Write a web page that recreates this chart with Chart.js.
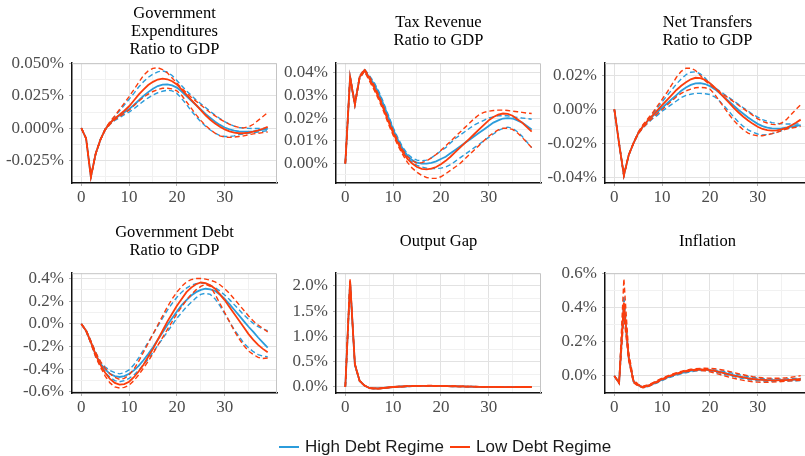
<!DOCTYPE html>
<html><head><meta charset="utf-8">
<script src="https://cdn.jsdelivr.net/npm/chart.js@4.4.1/dist/chart.umd.min.js"></script>
<style>
html,body{margin:0;padding:0;background:#fff;width:805px;height:456px;overflow:hidden;position:relative}
canvas{position:absolute}
.title{position:absolute;display:flex;align-items:center;justify-content:center;text-align:center;font-family:"Liberation Serif",serif;font-size:16.5px;line-height:18.3px;color:#000;white-space:pre-line}
.leg{position:absolute;top:437px;height:20px;display:flex;align-items:center;font-family:"Liberation Sans",Arial,sans-serif;font-size:17px;color:#1a1a1a;white-space:nowrap}
.leg i{display:inline-block;width:20px;height:2px;margin-right:6px}
</style></head><body>
<script>
const periods = [0,1,2,3,4,5,6,7,8,9,10,11,12,13,14,15,16,17,18,19,20,21,22,23,24,25,26,27,28,29,30,31,32,33,34,35,36,37,38,39];
const xTickLabels = [0,10,20,30];
const seriesNames = ['High Debt Regime','Low Debt Regime'];

// Government expenditures (% of GDP)
const govExpLow   = [0,-0.008,-0.038,-0.020,-0.009,-0.001,0.004,0.0075,0.0105,0.0135,0.017,0.0215,0.026,0.030,0.0335,0.036,0.0378,0.0385,0.038,0.0365,0.034,0.030,0.026,0.022,0.018,0.014,0.010,0.0065,0.0035,0.001,-0.001,-0.0025,-0.0035,-0.004,-0.004,-0.0035,-0.0028,-0.0018,-0.0005,0.001];
const govExpLowUp = [0,-0.008,-0.038,-0.020,-0.009,-0.0005,0.005,0.0095,0.0145,0.0195,0.0245,0.030,0.0355,0.041,0.0445,0.0465,0.047,0.0455,0.043,0.039,0.035,0.031,0.0275,0.024,0.021,0.018,0.015,0.012,0.0095,0.007,0.005,0.003,0.0015,0.0005,0.0002,0.001,0.003,0.006,0.009,0.012];
const govExpLowLo = [0,-0.008,-0.038,-0.020,-0.009,-0.0015,0.003,0.0065,0.009,0.0115,0.014,0.0175,0.021,0.024,0.0265,0.0285,0.030,0.031,0.031,0.0305,0.029,0.0255,0.0205,0.0155,0.0105,0.006,0.002,-0.0012,-0.004,-0.006,-0.007,-0.0072,-0.007,-0.0065,-0.006,-0.0052,-0.0045,-0.004,-0.0035,-0.003];
const govExpHigh   = [0,-0.008,-0.038,-0.020,-0.009,-0.001,0.004,0.0072,0.0098,0.0123,0.0148,0.018,0.0215,0.025,0.028,0.0307,0.0327,0.0338,0.034,0.0332,0.0315,0.0285,0.025,0.0215,0.018,0.0145,0.011,0.008,0.005,0.0025,0.0005,-0.001,-0.002,-0.0025,-0.0028,-0.0028,-0.0025,-0.002,-0.0012,-0.0005];
const govExpHighUp = [0,-0.008,-0.038,-0.020,-0.009,-0.0005,0.0045,0.009,0.0135,0.018,0.0225,0.027,0.032,0.036,0.0395,0.042,0.0438,0.0445,0.0435,0.041,0.037,0.033,0.029,0.0255,0.022,0.019,0.016,0.013,0.010,0.0075,0.005,0.003,0.0015,0.0005,0,-0.0002,-0.0003,-0.0003,-0.0002,0];
const govExpHighLo = [0,-0.008,-0.038,-0.020,-0.009,-0.0015,0.003,0.006,0.008,0.0105,0.0125,0.015,0.018,0.021,0.0235,0.0258,0.0275,0.0287,0.0295,0.029,0.027,0.023,0.0185,0.0135,0.009,0.005,0.0015,-0.0015,-0.004,-0.0058,-0.0065,-0.0065,-0.006,-0.005,-0.0045,-0.004,-0.0035,-0.003,-0.0025,-0.002];
const govExpTicks = [-0.025,0,0.025,0.05];

// Tax revenue
const taxLow   = [0,0.038,0.026,0.038,0.041,0.0375,0.0335,0.029,0.024,0.0185,0.0135,0.009,0.005,0.002,0,-0.0015,-0.0023,-0.0025,-0.0022,-0.0015,-0.0003,0.0012,0.003,0.005,0.007,0.009,0.011,0.013,0.015,0.017,0.019,0.0205,0.0215,0.022,0.0218,0.021,0.0195,0.018,0.016,0.014];
const taxLowUp = [0,0.0385,0.0265,0.0385,0.0415,0.0385,0.0345,0.030,0.025,0.0195,0.0145,0.010,0.006,0.003,0.0012,0.0002,0.0004,0.0012,0.0025,0.004,0.0058,0.0078,0.0098,0.0118,0.0138,0.0158,0.0178,0.0198,0.0215,0.0225,0.023,0.0233,0.0235,0.0235,0.0233,0.023,0.0228,0.0225,0.0222,0.022];
const taxLowLo = [0,0.0375,0.0255,0.0375,0.0405,0.0365,0.0325,0.028,0.023,0.0175,0.0125,0.008,0.004,0.0005,-0.002,-0.0038,-0.0052,-0.0061,-0.0065,-0.0065,-0.0058,-0.0045,-0.003,-0.0015,0,0.002,0.004,0.006,0.008,0.010,0.012,0.0135,0.0148,0.0155,0.0155,0.015,0.0135,0.0115,0.0093,0.007];
const taxHigh   = [0,0.038,0.026,0.038,0.041,0.038,0.035,0.031,0.026,0.0205,0.015,0.0105,0.0065,0.0035,0.0015,0.0004,0,0,0.0003,0.001,0.002,0.003,0.0045,0.006,0.0075,0.009,0.0105,0.012,0.0135,0.015,0.0165,0.018,0.019,0.0198,0.020,0.0198,0.019,0.018,0.0165,0.015];
const taxHighUp = [0,0.0385,0.0265,0.0385,0.0415,0.0388,0.0358,0.0318,0.0268,0.0213,0.0158,0.0113,0.0073,0.0043,0.0025,0.0015,0.0012,0.0015,0.0025,0.004,0.0055,0.007,0.009,0.011,0.0125,0.014,0.0155,0.017,0.018,0.019,0.020,0.0205,0.021,0.021,0.021,0.0205,0.0203,0.020,0.0198,0.0195];
const taxHighLo = [0,0.0375,0.0255,0.0375,0.0405,0.0372,0.0342,0.0302,0.0252,0.0197,0.0142,0.0097,0.0057,0.0027,0.0005,-0.0008,-0.0015,-0.002,-0.0022,-0.0022,-0.002,-0.0015,-0.0005,0.001,0.0025,0.004,0.0055,0.007,0.0085,0.010,0.0115,0.013,0.0145,0.0155,0.016,0.0155,0.014,0.012,0.0095,0.007];
const taxTicks = [0,0.01,0.02,0.03,0.04];

// Net transfers
const ntLow   = [0,-0.020,-0.039,-0.027,-0.020,-0.014,-0.010,-0.0065,-0.0035,-0.0005,0.0025,0.0055,0.0085,0.0115,0.014,0.016,0.0178,0.0187,0.0185,0.0175,0.0155,0.013,0.010,0.007,0.004,0.001,-0.0018,-0.0043,-0.0065,-0.0085,-0.0102,-0.0115,-0.0122,-0.0125,-0.0123,-0.0118,-0.011,-0.0095,-0.0078,-0.006];
const ntLowUp = [0,-0.020,-0.039,-0.027,-0.020,-0.0135,-0.009,-0.0055,-0.002,0.002,0.006,0.010,0.0145,0.019,0.0225,0.0244,0.0243,0.023,0.020,0.017,0.0145,0.0125,0.0105,0.0085,0.0065,0.0045,0.0025,0.0005,-0.0015,-0.0035,-0.0055,-0.007,-0.008,-0.0088,-0.009,-0.008,-0.006,-0.003,0,0.0028];
const ntLowLo = [0,-0.020,-0.039,-0.027,-0.020,-0.0145,-0.0108,-0.0078,-0.005,-0.0025,0,0.0025,0.005,0.0075,0.0095,0.011,0.012,0.0128,0.013,0.0128,0.012,0.009,0.005,0.001,-0.003,-0.0065,-0.0095,-0.012,-0.014,-0.015,-0.0155,-0.0155,-0.015,-0.0143,-0.0135,-0.0125,-0.0115,-0.011,-0.0105,-0.010];
const ntHigh   = [0,-0.020,-0.039,-0.027,-0.020,-0.014,-0.010,-0.0068,-0.004,-0.0015,0.001,0.0035,0.006,0.0085,0.011,0.013,0.0145,0.0154,0.0155,0.015,0.0138,0.012,0.0098,0.0073,0.0048,0.0022,-0.0003,-0.0025,-0.0047,-0.0067,-0.0085,-0.0098,-0.0107,-0.0112,-0.0113,-0.0112,-0.0108,-0.0102,-0.0097,-0.0092];
const ntHighUp = [0,-0.020,-0.039,-0.027,-0.020,-0.0135,-0.0093,-0.006,-0.0025,0.001,0.0045,0.008,0.0115,0.015,0.018,0.0205,0.022,0.0222,0.021,0.0185,0.0155,0.013,0.011,0.009,0.007,0.005,0.003,0.001,-0.001,-0.003,-0.0045,-0.006,-0.007,-0.0078,-0.0082,-0.0085,-0.0086,-0.0086,-0.0086,-0.0085];
const ntHighLo = [0,-0.020,-0.039,-0.027,-0.020,-0.0145,-0.0108,-0.008,-0.0055,-0.0035,-0.001,0.001,0.003,0.005,0.007,0.0083,0.009,0.0095,0.0095,0.0093,0.0088,0.0075,0.005,0.002,-0.0012,-0.0045,-0.0075,-0.010,-0.012,-0.0135,-0.0145,-0.015,-0.0148,-0.0143,-0.0135,-0.0125,-0.0115,-0.0107,-0.010,-0.0097];
const ntTicks = [-0.04,-0.02,0,0.02];

// Government debt
const debtLow   = [0,-0.06,-0.16,-0.27,-0.36,-0.43,-0.485,-0.52,-0.535,-0.53,-0.51,-0.47,-0.42,-0.36,-0.29,-0.22,-0.14,-0.06,0.02,0.09,0.16,0.22,0.28,0.32,0.35,0.365,0.36,0.34,0.31,0.26,0.21,0.15,0.09,0.03,-0.03,-0.09,-0.14,-0.185,-0.22,-0.25];
const debtLowUp = [0,-0.055,-0.15,-0.25,-0.33,-0.39,-0.44,-0.47,-0.49,-0.48,-0.45,-0.40,-0.33,-0.25,-0.17,-0.09,-0.01,0.07,0.15,0.22,0.28,0.33,0.37,0.39,0.40,0.40,0.395,0.385,0.37,0.345,0.31,0.27,0.22,0.17,0.12,0.07,0.025,-0.01,-0.04,-0.07];
const debtLowLo = [0,-0.065,-0.17,-0.29,-0.38,-0.46,-0.52,-0.555,-0.565,-0.56,-0.54,-0.50,-0.45,-0.39,-0.33,-0.26,-0.19,-0.12,-0.05,0.02,0.09,0.15,0.21,0.26,0.30,0.33,0.35,0.33,0.26,0.18,0.10,0.02,-0.06,-0.13,-0.19,-0.24,-0.27,-0.295,-0.305,-0.30];
const debtHigh   = [0,-0.06,-0.16,-0.27,-0.35,-0.40,-0.44,-0.46,-0.468,-0.46,-0.44,-0.41,-0.37,-0.32,-0.265,-0.205,-0.14,-0.075,-0.01,0.05,0.11,0.165,0.21,0.25,0.28,0.30,0.31,0.305,0.29,0.26,0.22,0.175,0.125,0.075,0.025,-0.025,-0.07,-0.12,-0.165,-0.21];
const debtHighUp = [0,-0.055,-0.15,-0.25,-0.34,-0.38,-0.41,-0.43,-0.44,-0.43,-0.405,-0.36,-0.30,-0.23,-0.16,-0.09,-0.02,0.05,0.12,0.18,0.235,0.28,0.315,0.34,0.355,0.36,0.355,0.34,0.32,0.29,0.255,0.215,0.17,0.125,0.08,0.04,0.005,-0.025,-0.045,-0.06];
const debtHighLo = [0,-0.065,-0.17,-0.29,-0.37,-0.43,-0.47,-0.50,-0.51,-0.50,-0.48,-0.45,-0.41,-0.36,-0.31,-0.25,-0.19,-0.13,-0.07,-0.01,0.05,0.10,0.15,0.19,0.23,0.26,0.27,0.26,0.22,0.16,0.09,0.02,-0.05,-0.11,-0.17,-0.21,-0.245,-0.27,-0.285,-0.29];
const debtTicks = [-0.6,-0.4,-0.2,0,0.2,0.4];

// Output gap
const gapLow   = [0,2.10,0.45,0.12,0.03,-0.02,-0.03,-0.03,-0.02,-0.01,0,0.005,0.01,0.015,0.018,0.02,0.022,0.022,0.022,0.021,0.02,0.018,0.016,0.014,0.012,0.01,0.008,0.006,0.004,0.003,0.002,0.001,0,-0.001,-0.001,-0.001,-0.001,0,0,0.001];
const gapLowUp = [0,2.13,0.47,0.13,0.035,-0.015,-0.025,-0.025,-0.015,-0.005,0.005,0.01,0.015,0.02,0.023,0.025,0.027,0.028,0.028,0.027,0.025,0.023,0.021,0.019,0.016,0.014,0.012,0.01,0.008,0.006,0.004,0.003,0.002,0.002,0.002,0.003,0.004,0.005,0.006,0.007];
const gapLowLo = [0,2.07,0.43,0.11,0.025,-0.025,-0.035,-0.035,-0.025,-0.015,-0.005,0,0.005,0.01,0.013,0.015,0.017,0.017,0.016,0.015,0.014,0.012,0.01,0.008,0.006,0.005,0.003,0.002,0,-0.001,-0.002,-0.003,-0.004,-0.004,-0.005,-0.005,-0.005,-0.005,-0.004,-0.004];
const gapHigh   = [0,2.08,0.44,0.12,0.03,-0.02,-0.03,-0.028,-0.02,-0.01,0,0.005,0.01,0.014,0.017,0.019,0.02,0.021,0.021,0.02,0.019,0.017,0.015,0.013,0.011,0.009,0.007,0.005,0.004,0.003,0.002,0.001,0,-0.001,-0.001,-0.001,-0.001,0,0,0];
const gapHighUp = [0,2.10,0.455,0.125,0.032,-0.017,-0.027,-0.026,-0.017,-0.007,0.003,0.008,0.013,0.017,0.02,0.022,0.024,0.025,0.025,0.024,0.022,0.02,0.018,0.016,0.014,0.012,0.01,0.008,0.006,0.005,0.004,0.003,0.002,0.002,0.002,0.002,0.002,0.003,0.003,0.004];
const gapHighLo = [0,2.06,0.425,0.115,0.028,-0.023,-0.033,-0.031,-0.023,-0.013,-0.003,0.002,0.007,0.011,0.014,0.016,0.017,0.017,0.017,0.016,0.015,0.013,0.011,0.009,0.007,0.006,0.004,0.003,0.002,0,-0.001,-0.002,-0.003,-0.003,-0.004,-0.004,-0.004,-0.004,-0.003,-0.003];
const gapTicks = [0,0.5,1,1.5,2];

// Inflation
const infLow   = [0,-0.04,0.43,0.11,-0.03,-0.055,-0.065,-0.058,-0.045,-0.032,-0.018,-0.006,0.005,0.014,0.022,0.029,0.034,0.037,0.038,0.037,0.034,0.029,0.023,0.016,0.009,0.002,-0.004,-0.009,-0.014,-0.018,-0.021,-0.023,-0.025,-0.026,-0.026,-0.025,-0.024,-0.022,-0.02,-0.018];
const infLowUp = [0,-0.035,0.57,0.14,-0.02,-0.05,-0.06,-0.053,-0.04,-0.027,-0.013,-0.001,0.01,0.019,0.027,0.034,0.039,0.042,0.044,0.045,0.044,0.042,0.038,0.033,0.027,0.02,0.013,0.007,0.001,-0.004,-0.008,-0.011,-0.013,-0.014,-0.014,-0.013,-0.011,-0.008,-0.004,0.002];
const infLowLo = [0,-0.045,0.35,0.09,-0.04,-0.06,-0.07,-0.063,-0.05,-0.037,-0.023,-0.011,0,0.009,0.017,0.024,0.029,0.032,0.032,0.03,0.024,0.017,0.009,0.001,-0.007,-0.014,-0.02,-0.026,-0.03,-0.034,-0.036,-0.037,-0.037,-0.036,-0.035,-0.033,-0.031,-0.029,-0.027,-0.025];
const infHigh   = [0,-0.04,0.42,0.11,-0.03,-0.055,-0.065,-0.06,-0.048,-0.035,-0.022,-0.01,0,0.009,0.017,0.024,0.03,0.034,0.036,0.036,0.034,0.03,0.025,0.018,0.011,0.004,-0.002,-0.008,-0.013,-0.017,-0.02,-0.022,-0.024,-0.025,-0.025,-0.025,-0.024,-0.023,-0.022,-0.021];
const infHighUp = [0,-0.037,0.47,0.12,-0.025,-0.052,-0.062,-0.056,-0.044,-0.031,-0.017,-0.005,0.005,0.014,0.022,0.029,0.034,0.038,0.04,0.04,0.038,0.035,0.031,0.026,0.02,0.014,0.008,0.002,-0.003,-0.008,-0.012,-0.015,-0.017,-0.018,-0.018,-0.018,-0.017,-0.016,-0.015,-0.014];
const infHighLo = [0,-0.043,0.38,0.1,-0.035,-0.058,-0.068,-0.063,-0.052,-0.04,-0.027,-0.015,-0.005,0.004,0.012,0.019,0.025,0.029,0.031,0.031,0.029,0.024,0.017,0.01,0.003,-0.004,-0.01,-0.016,-0.021,-0.025,-0.028,-0.03,-0.031,-0.032,-0.032,-0.031,-0.03,-0.029,-0.028,-0.027];
const infTicks = [0,0.2,0.4,0.6];

const BLUE = '#2B9CDB', RED = '#FC3D0C';
const PW = 205, PH = 120;

const panels = [
  {title:'Government\nExpenditures\nRatio to GDP', L:72, T:63, row:0, ymin:-0.0427, ymax:0.0505, ticks:govExpTicks, dec:3,
   low:[govExpLow,govExpLowUp,govExpLowLo], high:[govExpHigh,govExpHighUp,govExpHighLo]},
  {title:'Tax Revenue\nRatio to GDP', L:336, T:63, row:0, ymin:-0.00853, ymax:0.0441, ticks:taxTicks, dec:2,
   low:[taxLow,taxLowUp,taxLowLo], high:[taxHigh,taxHighUp,taxHighLo]},
  {title:'Net Transfers\nRatio to GDP', L:605, T:63, row:0, ymin:-0.0434, ymax:0.0273, ticks:ntTicks, dec:2,
   low:[ntLow,ntLowUp,ntLowLo], high:[ntHigh,ntHighUp,ntHighLo]},
  {title:'Government Debt\nRatio to GDP', L:72, T:273, row:1, ymin:-0.609, ymax:0.447, ticks:debtTicks, dec:1,
   low:[debtLow,debtLowUp,debtLowLo], high:[debtHigh,debtHighUp,debtHighLo]},
  {title:'Output Gap', L:336, T:273, row:1, ymin:-0.119, ymax:2.25, ticks:gapTicks, dec:1,
   low:[gapLow,gapLowUp,gapLowLo], high:[gapHigh,gapHighUp,gapHighLo]},
  {title:'Inflation', L:605, T:273, row:1, ymin:-0.1, ymax:0.602, ticks:infTicks, dec:1,
   low:[infLow,infLowUp,infLowLo], high:[infHigh,infHighUp,infHighLo]}
];

const frame = {id:'frame', beforeDatasetsDraw(chart){
  const {ctx, chartArea:a} = chart;
  ctx.save(); ctx.strokeStyle='#C4C4C4'; ctx.lineWidth=1;
  ctx.beginPath(); ctx.moveTo(a.left, a.top+0.5); ctx.lineTo(a.right-0.5, a.top+0.5); ctx.lineTo(a.right-0.5, a.bottom); ctx.stroke();
  ctx.restore();
}};

function withMinors(majors, lo, hi){
  const step = majors[1]-majors[0];
  const out = [];
  const cand = [majors[0]-step/2];
  majors.forEach(m => { cand.push(m); cand.push(m+step/2); });
  cand.forEach(v => { if (v >= lo-1e-9 && v <= hi+1e-9) out.push(v); });
  return out;
}
const isMajorOf = (arr, v) => arr.some(m => Math.abs(m - v) < 1e-9);

panels.forEach(p => {
  const cv = document.createElement('canvas');
  cv.width = PW + 72 + 8; cv.height = PH + 15 + 35;
  cv.style.left = (p.L - 72) + 'px'; cv.style.top = (p.T - 15) + 'px';
  document.body.appendChild(cv);

  const t = document.createElement('div');
  t.className = 'title'; t.textContent = p.title;
  t.style.left = p.L + 'px'; t.style.width = PW + 'px';
  t.style.top = (p.row === 0 ? 2 : 212) + 'px'; t.style.height = '58px';
  document.body.appendChild(t);

  const mk = (vals, color, dashed) => ({
    data: vals.map((v,i) => ({x: periods[i], y: v})),
    borderColor: color, borderWidth: dashed ? 1.4 : 1.8, borderDash: dashed ? [5,3] : [],
    pointRadius: 0, fill: false, tension: 0
  });
  const datasets = [
    mk(p.low[0], RED, false), mk(p.low[1], RED, true), mk(p.low[2], RED, true),
    mk(p.high[0], BLUE, false), mk(p.high[1], BLUE, true), mk(p.high[2], BLUE, true)
  ];
  datasets[0].label = seriesNames[1]; datasets[3].label = seriesNames[0];

  const xAll = withMinors(xTickLabels, -1.95, 40.95);
  const yAll = withMinors(p.ticks, p.ymin, p.ymax);
  const gridStyle = majors => ({
    color: c => isMajorOf(majors, c.tick.value) ? '#E2E2E2' : '#F1F1F1',
    lineWidth: 1, drawTicks: true, tickLength: 3,
    tickColor: c => isMajorOf(majors, c.tick.value) ? '#B3B3B3' : 'rgba(0,0,0,0)'
  });

  new Chart(cv, {
    type: 'line',
    data: {datasets},
    options: {
      responsive: false, animation: false, events: [],
      layout: {padding: {left: 4, top: 15, right: 8, bottom: 0}},
      plugins: {legend: {display: false}, tooltip: {enabled: false}, title: {display: false}},
      scales: {
        x: {type: 'linear', bounds: 'data', min: -1.95, max: 40.95,
          afterBuildTicks: ax => { ax.ticks = xAll.map(v => ({value: v})); },
          afterFit: ax => { ax.height = 35; },
          grid: gridStyle(xTickLabels),
          border: {display: true, color: '#111', width: 1.5},
          ticks: {autoSkip: false, maxRotation: 0, padding: 1, color: '#4D4D4D',
            font: {family: 'Liberation Serif', size: 17},
            callback: v => isMajorOf(xTickLabels, v) ? String(v) : ''}
        },
        y: {type: 'linear', bounds: 'data', min: p.ymin, max: p.ymax,
          afterBuildTicks: ax => { ax.ticks = yAll.map(v => ({value: v})); },
          afterFit: ax => { ax.width = 68; },
          grid: gridStyle(p.ticks),
          border: {display: true, color: '#111', width: 1.5},
          ticks: {autoSkip: false, padding: 5, color: '#4D4D4D',
            font: {family: 'Liberation Serif', size: 17},
            callback: v => isMajorOf(p.ticks, v) ? v.toFixed(p.dec) + '%' : ''}
        }
      }
    },
    plugins: [frame]
  });
});

// legend
[[seriesNames[0], BLUE, 279], [seriesNames[1], RED, 450]].forEach(([name, col, left]) => {
  const d = document.createElement('div');
  d.className = 'leg'; d.style.left = left + 'px';
  const i = document.createElement('i'); i.style.background = col;
  d.appendChild(i); d.appendChild(document.createTextNode(name));
  document.body.appendChild(d);
});
</script>
</body></html>
